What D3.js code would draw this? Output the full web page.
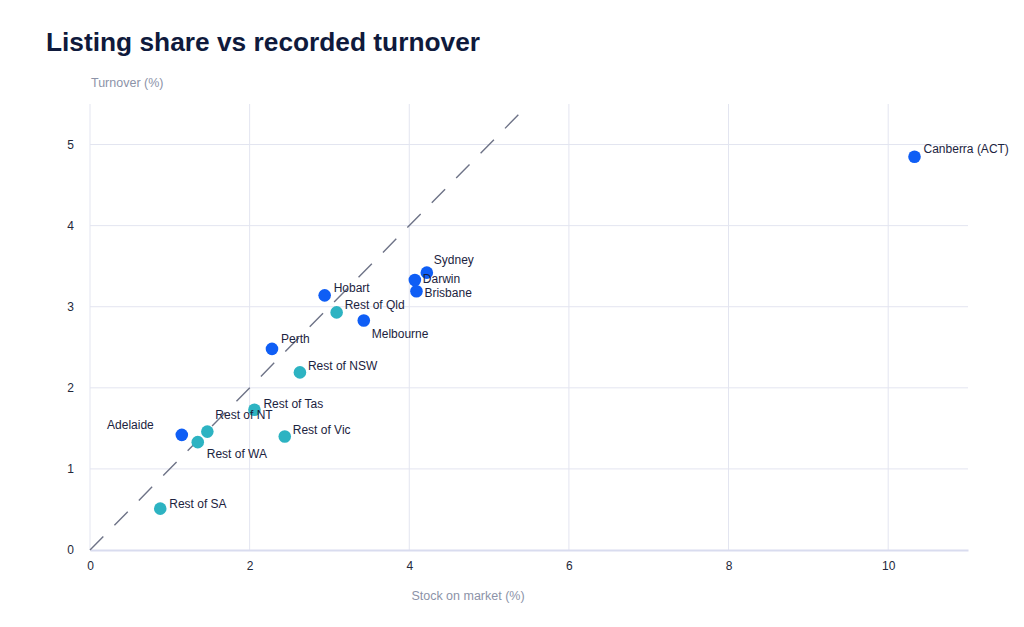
<!DOCTYPE html>
<html>
<head>
<meta charset="utf-8">
<script src="https://cdn.jsdelivr.net/npm/d3@7"></script>
<style>
  html, body { margin: 0; padding: 0; background: #ffffff; }
  svg { display: block; font-family: "Liberation Sans", Arial, Helvetica, sans-serif; }
</style>
</head>
<body>
<svg id="chart" width="1024" height="627"></svg>
<script>
// ---- data ----
const regions = ["Canberra (ACT)", "Sydney", "Darwin", "Brisbane", "Hobart", "Rest of Qld", "Melbourne",
                 "Perth", "Rest of NSW", "Rest of Tas", "Rest of NT", "Adelaide", "Rest of WA", "Rest of Vic", "Rest of SA"];
const stockOnMarket = [10.33, 4.22, 4.07, 4.09, 2.94, 3.09, 3.43, 2.28, 2.63, 2.06, 1.47, 1.15, 1.35, 2.44, 0.88];
const turnover      = [4.85, 3.42, 3.33, 3.19, 3.14, 2.93, 2.83, 2.48, 2.19, 1.73, 1.46, 1.42, 1.33, 1.40, 0.51];
const regionType    = ["city", "city", "city", "city", "city", "rest", "city",
                       "city", "rest", "rest", "rest", "city", "rest", "rest", "rest"];
const xTicks = [0, 2, 4, 6, 8, 10];
const yTicks = [0, 1, 2, 3, 4, 5];
const parityLine = [0, 5.375];

// ---- layout / style ----
const colors = { city: "#0f5ef5", rest: "#2db3c2" };
// label offsets (px) relative to marker centre: [dx, dy(baseline), anchor]
const labelOffsets = {
  "Canberra (ACT)": [9, -4, "start"],
  "Sydney": [7, -9, "start"],
  "Darwin": [8, 3, "start"],
  "Brisbane": [8, 6, "start"],
  "Hobart": [9, -3, "start"],
  "Rest of Qld": [8, -3, "start"],
  "Melbourne": [8, 17, "start"],
  "Perth": [9, -6, "start"],
  "Rest of NSW": [8, -2, "start"],
  "Rest of Tas": [9, -2, "start"],
  "Rest of NT": [8, -13, "start"],
  "Adelaide": [-28, -6, "end"],
  "Rest of WA": [9, 16, "start"],
  "Rest of Vic": [8, -2, "start"],
  "Rest of SA": [9, -1, "start"]
};

const svg = d3.select("#chart");
const margin = { left: 90, right: 56, top: 104, bottom: 77 };
const W = 1024, H = 627;
const x = d3.scaleLinear().domain([0, 11]).range([margin.left, W - margin.right]);
const y = d3.scaleLinear().domain([0, 5.5]).range([H - margin.bottom, margin.top]);

// title
svg.append("text").attr("x", 46).attr("y", 51)
  .attr("font-size", 26.3).attr("font-weight", "bold").attr("fill", "#0f1a3c")
  .text("Listing share vs recorded turnover");

// grid
const gridColor = "#e3e5f0";
svg.append("g").selectAll("line").data(xTicks).join("line")
  .attr("x1", d => x(d)).attr("x2", d => x(d))
  .attr("y1", y(5.5)).attr("y2", y(0))
  .attr("stroke", gridColor).attr("stroke-width", 1);
svg.append("g").selectAll("line").data(yTicks.filter(d => d > 0)).join("line")
  .attr("x1", x(0)).attr("x2", x(11))
  .attr("y1", d => y(d)).attr("y2", d => y(d))
  .attr("stroke", gridColor).attr("stroke-width", 1);

// x axis
const xAxis = svg.append("g").attr("transform", `translate(0,${y(0)})`)
  .call(d3.axisBottom(x).tickValues(xTicks).tickSize(0).tickPadding(11).tickFormat(d3.format("d")));
xAxis.select(".domain").attr("stroke", "#d9dcef").attr("stroke-width", 2);
xAxis.selectAll("text").attr("font-size", 12).attr("fill", "#23283a")
  .attr("font-family", "'Liberation Sans', Arial, sans-serif");

// y axis
const yAxis = svg.append("g").attr("transform", `translate(${x(0)},0)`)
  .call(d3.axisLeft(y).tickValues(yTicks).tickSize(0).tickPadding(16).tickFormat(d3.format("d")));
yAxis.select(".domain").remove();
yAxis.selectAll("text").attr("font-size", 12).attr("fill", "#23283a")
  .attr("font-family", "'Liberation Sans', Arial, sans-serif");

// axis titles
svg.append("text").attr("x", 91).attr("y", 87)
  .attr("font-size", 12.5).attr("fill", "#8c93a8").text("Turnover (%)");
svg.append("text").attr("x", 468).attr("y", 600).attr("text-anchor", "middle")
  .attr("font-size", 12.5).attr("fill", "#8c93a8").text("Stock on market (%)");

// parity line
svg.append("line")
  .attr("x1", x(parityLine[0])).attr("y1", y(parityLine[0]))
  .attr("x2", x(parityLine[1])).attr("y2", y(parityLine[1]))
  .attr("stroke", "#6e7387").attr("stroke-width", 1.4)
  .attr("stroke-dasharray", "19,15.8");

// points
const pts = regions.map((r, i) => ({ name: r, sx: stockOnMarket[i], ty: turnover[i], type: regionType[i] }));
svg.append("g").selectAll("circle").data(pts).join("circle")
  .attr("cx", d => x(d.sx)).attr("cy", d => y(d.ty)).attr("r", 6.3)
  .attr("fill", d => colors[d.type]);

// labels
svg.append("g").selectAll("text").data(pts).join("text")
  .attr("x", d => x(d.sx) + labelOffsets[d.name][0])
  .attr("y", d => y(d.ty) + labelOffsets[d.name][1])
  .attr("text-anchor", d => labelOffsets[d.name][2])
  .attr("font-size", 12).attr("fill", "#1c2340")
  .text(d => d.name);
</script>
</body>
</html>
